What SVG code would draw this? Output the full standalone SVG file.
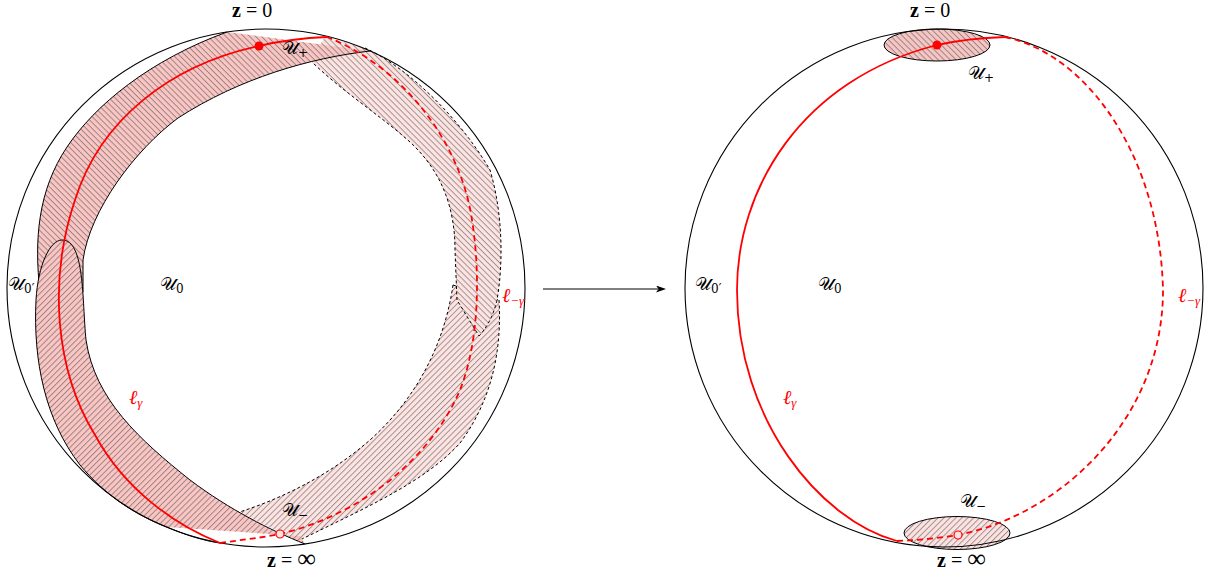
<svg xmlns="http://www.w3.org/2000/svg" width="1215" height="577" viewBox="0 0 1215 577">
<style>
.sphere{fill:none;stroke:#000;stroke-width:1.1}
.front{fill:#f9c6c4}
.back{fill:#fde4e2}
.edge{fill:none;stroke:#000;stroke-width:1}
.dedge{fill:none;stroke:#000;stroke-width:1;stroke-dasharray:3 2.5}
.red{fill:none;stroke:#f00;stroke-width:1.8}
.reddash{fill:none;stroke:#f00;stroke-width:1.8;stroke-dasharray:6 4}
.lbl{font-family:"DejaVu Serif","DejaVu Sans","Noto Sans",serif;font-size:18px;fill:#000}
.sub{font-size:12px}
.z{font-family:"Liberation Serif",serif;font-size:20px;fill:#000}
.inf{font-size:26px}
.ell{font-family:"Liberation Serif","DejaVu Serif",serif;font-style:italic;font-size:20px;fill:#f00}
</style>
<defs>
<pattern id="hA" width="4.2" height="4.2" patternUnits="userSpaceOnUse" patternTransform="rotate(45)">
<line x1="0" y1="0.5" x2="4.2" y2="0.5" stroke="#444" stroke-width="0.5"/>
</pattern>
<pattern id="hB" width="4.2" height="4.2" patternUnits="userSpaceOnUse" patternTransform="rotate(-45)">
<line x1="0" y1="0.5" x2="4.2" y2="0.5" stroke="#444" stroke-width="0.5"/>
</pattern>
<marker id="arr" markerWidth="10" markerHeight="7" refX="2" refY="3.5" orient="auto" markerUnits="userSpaceOnUse">
<path d="M0,0 L10,3.5 L0,7 L2.5,3.5 Z" fill="#000"/>
</marker>
<path id="backLower" d="M 453,285 L 499,300 C 502,350 492,400 460,443 C 425,482 365,508 300,540 L 305,544 L 240,513 L 233,514 C 280,500 330,475 370,440 C 420,395 445,340 453,285 Z"/>
<path id="backUpper" d="M 325,37 L 365,48 C 405,66 458,115 490,170 C 502,210 504,260 497,300 Q 492,322 479,336 L 457,300 L 455,250 C 455,205 440,170 410,142 C 380,115 340,90 310,60 Z"/>
<path id="frontUpper" d="M 40,292 C 34,240 38,190 67,147 C 95,105 150,60 227,32 L 370,51 C 310,58 240,78 178,118 C 135,150 90,210 83,260 L 83,292 Q 62,305 40,292 Z"/>
<path id="frontLower" d="M 62,240 C 50,240 38,265 36,300 C 33,360 45,420 80,465 C 105,495 135,515 167,527 L 300,536 L 305,544 C 270,530 230,510 190,480 C 140,440 95,400 86,340 C 82,300 85,240 62,240 Z"/>
</defs>

<g id="left-back-lower">
<use href="#backLower" class="back"/>
<use href="#backLower" fill="url(#hB)"/>
<path class="dedge" d="M 499,300 C 502,350 492,400 460,443 C 425,482 365,508 300,540"/>
<path class="dedge" d="M 453,285 C 445,340 420,395 370,440 C 330,475 280,500 233,514"/>
<path class="dedge" d="M 453,285 L 499,300"/>
</g>
<g id="left-back-upper">
<use href="#backUpper" class="back"/>
<use href="#backUpper" fill="url(#hA)"/>
<path class="dedge" d="M 365,48 C 405,66 458,115 490,170 C 502,210 504,260 497,300 Q 492,322 479,336"/>
<path class="dedge" d="M 310,60 C 340,90 380,115 410,142 C 440,170 455,205 455,250 L 457,300 L 479,336"/>
</g>
<g id="left-front-upper">
<use href="#frontUpper" class="front"/>
<use href="#frontUpper" fill="url(#hA)"/>
<path class="edge" d="M 40,292 C 34,240 38,190 67,147 C 95,105 150,60 227,32"/>
<path class="edge" d="M 370,51 C 310,58 240,78 178,118 C 135,150 90,210 83,260 L 83,292"/>
</g>
<g id="left-front-lower">
<use href="#frontLower" class="front"/>
<use href="#frontLower" fill="url(#hB)"/>
<path class="edge" d="M 305,544 C 270,530 230,510 190,480 C 140,440 95,400 86,340 C 82,300 85,240 62,240 C 50,240 38,265 36,300 C 33,360 45,420 80,465 C 105,495 135,515 167,527 C 185,535 205,541 220,543"/>
</g>
<g id="left-sphere">
<circle class="sphere" cx="266" cy="288" r="259"/>
</g>
<g id="left-curve">
<path class="reddash" d="M 220,543 C 240,540 260,538 280,534 C 360,515 430,460 460,390 C 480,340 480,270 472,220 C 462,150 410,70 327,37"/>
<path class="red" d="M 327,37 C 300,38 280,41 259,46 C 170,65 100,120 75,200 C 48,280 55,370 95,435 C 125,490 175,525 220,543"/>
<circle cx="259" cy="46" r="4.5" fill="#f00"/>
<circle cx="280" cy="534" r="4" fill="#fde4e2" stroke="#f00" stroke-width="1.2"/>
</g>
<g id="left-labels">
<text class="z" x="232" y="17"><tspan font-weight="bold">z</tspan> = 0</text>
<text class="z" x="267" y="567"><tspan font-weight="bold">z</tspan> = <tspan class="inf">∞</tspan></text>
<text class="lbl" x="282" y="54">𝒰<tspan class="sub" dy="3">+</tspan></text>
<text class="lbl" x="282" y="516">𝒰<tspan class="sub" dy="3">−</tspan></text>
<text class="lbl" x="8" y="290">𝒰<tspan class="sub" dy="3">0′</tspan></text>
<text class="lbl" x="160" y="290">𝒰<tspan class="sub" dy="3">0</tspan></text>
<text class="ell" x="502" y="302">ℓ<tspan font-size="13" dy="3">−γ</tspan></text>
<text class="ell" x="129" y="404">ℓ<tspan font-size="13" dy="3">γ</tspan></text>
</g>

<g id="connectors">
<line x1="543" y1="289" x2="658" y2="289" stroke="#000" stroke-width="1" marker-end="url(#arr)"/>
</g>

<g id="right-U-plus">
<ellipse cx="937" cy="45" rx="53" ry="16" fill="#f5c6c4"/>
<ellipse cx="937" cy="45" rx="53" ry="16" fill="url(#hA)" stroke="#000" stroke-width="1"/>
</g>
<g id="right-U-minus">
<ellipse cx="957" cy="533" rx="53" ry="16.5" fill="#fce2e0"/>
<ellipse cx="957" cy="533" rx="53" ry="16.5" fill="url(#hB)" stroke="#000" stroke-width="1"/>
</g>
<g id="right-sphere">
<circle class="sphere" cx="944" cy="288" r="259"/>
</g>
<g id="right-curve">
<path class="reddash" d="M 897,541 C 920,540 940,538 958,535 C 1060,515 1163,420 1163,290 C 1160,160 1090,55 1005,37"/>
<path class="red" d="M 1005,37 C 975,38 955,41 937,45 C 800,80 737,190 737,290 C 737,420 820,520 897,541"/>
<circle cx="937" cy="45" r="4.5" fill="#f00"/>
<circle cx="958" cy="535" r="4" fill="#fce2e0" stroke="#f00" stroke-width="1.2"/>
</g>
<g id="right-labels">
<text class="z" x="910" y="17"><tspan font-weight="bold">z</tspan> = 0</text>
<text class="z" x="937" y="567"><tspan font-weight="bold">z</tspan> = <tspan class="inf">∞</tspan></text>
<text class="lbl" x="968" y="79">𝒰<tspan class="sub" dy="3">+</tspan></text>
<text class="lbl" x="960" y="507">𝒰<tspan class="sub" dy="3">−</tspan></text>
<text class="lbl" x="695" y="290">𝒰<tspan class="sub" dy="3">0′</tspan></text>
<text class="lbl" x="818" y="290">𝒰<tspan class="sub" dy="3">0</tspan></text>
<text class="ell" x="1178" y="302">ℓ<tspan font-size="13" dy="3">−γ</tspan></text>
<text class="ell" x="783" y="404">ℓ<tspan font-size="13" dy="3">γ</tspan></text>
</g>
</svg>
